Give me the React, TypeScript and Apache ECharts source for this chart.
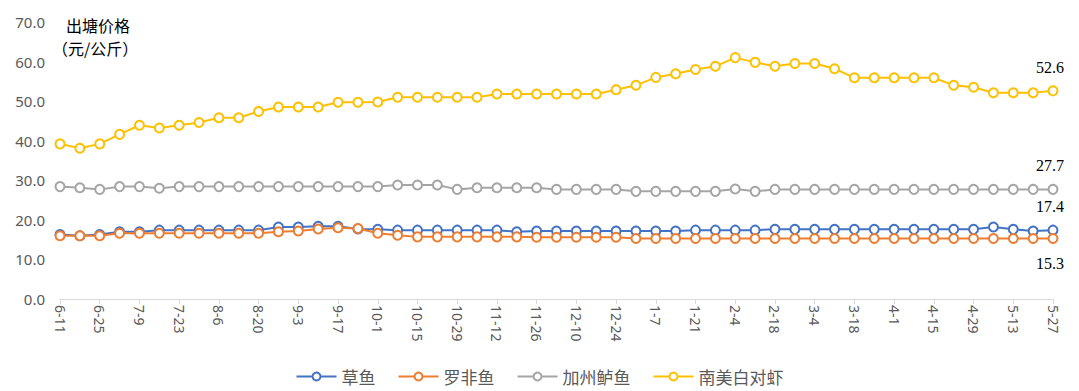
import React, { useEffect, useRef } from "react";
import * as echarts from "echarts";

const dates = [
  "6-11", "6-18", "6-25", "7-2", "7-9", "7-16", "7-23", "7-30", "8-6", "8-13",
  "8-20", "8-27", "9-3", "9-10", "9-17", "9-24", "10-1", "10-8", "10-15", "10-22",
  "10-29", "11-5", "11-12", "11-19", "11-26", "12-3", "12-10", "12-17", "12-24", "12-31",
  "1-7", "1-14", "1-21", "1-28", "2-4", "2-11", "2-18", "2-25", "3-4", "3-11",
  "3-18", "3-25", "4-1", "4-8", "4-15", "4-22", "4-29", "5-6", "5-13", "5-20", "5-27",
];

const grassCarp = [
  16.3, 16.0, 16.3, 17.0, 17.0, 17.4, 17.4, 17.4, 17.4, 17.4,
  17.4, 18.2, 18.2, 18.4, 18.4, 17.7, 17.6, 17.4, 17.4, 17.4,
  17.4, 17.4, 17.4, 17.0, 17.2, 17.2, 17.2, 17.2, 17.2, 17.2,
  17.2, 17.2, 17.4, 17.4, 17.4, 17.4, 17.6, 17.6, 17.6, 17.6,
  17.6, 17.6, 17.6, 17.6, 17.6, 17.6, 17.6, 18.2, 17.6, 17.2, 17.4,
];

const tilapia = [
  16.0, 16.0, 16.0, 16.6, 16.6, 16.6, 16.6, 16.6, 16.6, 16.6,
  16.6, 17.0, 17.2, 17.7, 18.0, 17.8, 16.6, 16.1, 15.7, 15.7,
  15.7, 15.7, 15.7, 15.7, 15.6, 15.6, 15.6, 15.6, 15.6, 15.3,
  15.3, 15.3, 15.3, 15.3, 15.3, 15.3, 15.3, 15.3, 15.3, 15.3,
  15.3, 15.3, 15.3, 15.3, 15.3, 15.3, 15.3, 15.3, 15.3, 15.3, 15.3,
];

const bass = [
  28.4, 28.1, 27.7, 28.4, 28.4, 28.0, 28.4, 28.4, 28.4, 28.4,
  28.4, 28.4, 28.4, 28.4, 28.4, 28.4, 28.4, 28.8, 28.8, 28.8,
  27.7, 28.1, 28.1, 28.1, 28.1, 27.7, 27.7, 27.7, 27.7, 27.2,
  27.2, 27.2, 27.2, 27.2, 27.8, 27.2, 27.7, 27.7, 27.7, 27.7,
  27.7, 27.7, 27.7, 27.7, 27.7, 27.7, 27.7, 27.7, 27.7, 27.7, 27.7,
];

const shrimp = [
  39.2, 38.1, 39.2, 41.6, 43.9, 43.2, 43.9, 44.6, 45.8, 45.8,
  47.4, 48.5, 48.5, 48.5, 49.7, 49.7, 49.8, 51.0, 51.0, 51.0,
  51.0, 51.0, 51.8, 51.8, 51.8, 51.8, 51.8, 51.8, 52.9, 54.0,
  56.0, 56.9, 58.0, 58.8, 61.0, 59.8, 58.8, 59.5, 59.5, 58.2,
  55.9, 55.9, 55.9, 55.9, 55.9, 54.0, 53.5, 52.1, 52.1, 52.1, 52.6,
];

const seriesNames = ["草鱼", "罗非鱼", "加州鲈鱼", "南美白对虾"];
const seriesColors = ["#4472C4", "#ED7D31", "#A5A5A5", "#FFC000"];
const endLabelPos = ["top", "bottom", "top", "top"];

export default function App() {
  const ref = useRef<HTMLDivElement>(null);

  useEffect(() => {
    if (!ref.current) return;
    const chart = echarts.init(ref.current, null, { renderer: "svg" });
    const allData = [grassCarp, tilapia, bass, shrimp];

    const series = allData.map((vals, si) => ({
      name: seriesNames[si],
      type: "line",
      data: vals.map((v, i) =>
        i === vals.length - 1
          ? {
              value: v,
              label: {
                show: true,
                position: endLabelPos[si],
                distance: si === 1 ? 12 : 10,
                offset: [-3, 0],
                color: "#000",
                fontSize: 16,
                fontFamily: "Liberation Serif",
                formatter: (p: any) => Number(p.value).toFixed(1),
              },
            }
          : v
      ),
      symbol: "emptyCircle",
      symbolSize: 9,
      lineStyle: { color: seriesColors[si], width: 2 },
      itemStyle: { color: seriesColors[si], borderColor: seriesColors[si], borderWidth: 1.5 },
      z: 2 + si,
    }));

    chart.setOption({
      animation: false,
      backgroundColor: "#fff",
      grid: { left: 60, right: 26, top: 22, bottom: 92 },
      legend: {
        bottom: 1,
        left: "center",
        itemWidth: 40,
        itemHeight: 10,
        itemGap: 22,
        textStyle: { color: "#595959", fontSize: 17, fontFamily: "Noto Sans CJK SC" },
        data: seriesNames,
      },
      graphic: [
        {
          type: "text",
          left: 66,
          top: 15,
          style: {
            text: "出塘价格",
            fontSize: 16,
            lineHeight: 20,
            fill: "#000",
            fontFamily: "Noto Sans CJK SC",
          },
        },
        {
          type: "text",
          left: 52,
          top: 38,
          style: {
            text: "（元/公斤）",
            fontSize: 16,
            lineHeight: 20,
            fill: "#000",
            fontFamily: "Noto Sans CJK SC",
          },
        },
      ],
      xAxis: {
        type: "category",
        data: dates,
        boundaryGap: false,
        axisLine: { lineStyle: { color: "#D9D9D9", width: 1 } },
        axisTick: { show: true, interval: 1, length: 5, lineStyle: { color: "#D9D9D9" } },
        axisLabel: {
          interval: 1,
          rotate: -90,
          color: "#595959",
          fontSize: 14,
          fontFamily: "Noto Sans",
          margin: 6,
        },
      },
      yAxis: {
        type: "value",
        min: 0,
        max: 70,
        interval: 10,
        axisLine: { show: false },
        axisTick: { show: false },
        splitLine: { show: false },
        axisLabel: {
          color: "#595959",
          fontSize: 15,
          fontFamily: "Noto Sans",
          margin: 15,
          formatter: (v: number) => v.toFixed(1),
        },
      },
      series,
    });

    return () => chart.dispose();
  }, []);

  return (
    <div
      ref={ref}
      style={{ position: "fixed", left: 0, top: 0, width: 1079, height: 391, background: "#fff" }}
    />
  );
}
